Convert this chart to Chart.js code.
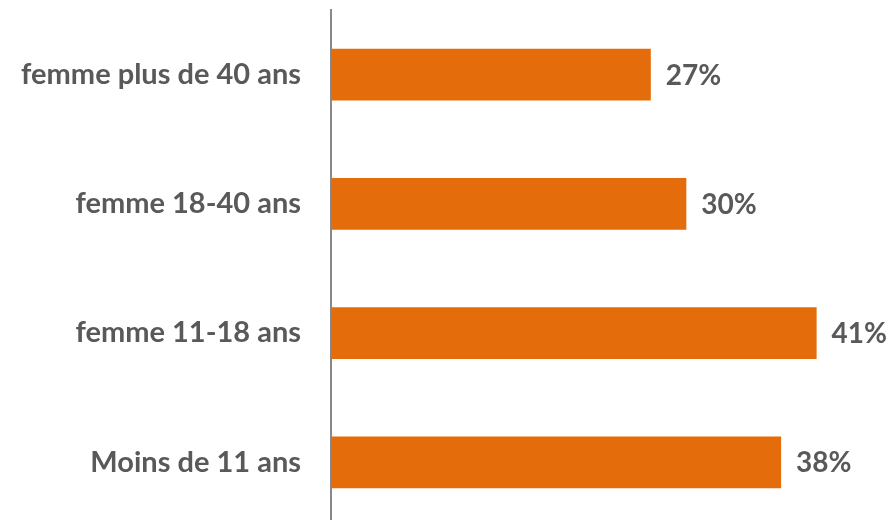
<!DOCTYPE html>
<html>
<head>
<meta charset="utf-8">
<script src="https://cdn.jsdelivr.net/npm/chart.js@4"></script>
<style>
  html, body { margin: 0; padding: 0; background: #fff; overflow: hidden; }
  #wrap { position: relative; width: 896px; height: 527px; }
</style>
</head>
<body>
<div id="wrap"><canvas id="c"></canvas></div>
<script>
const categories = ['femme plus de 40 ans', 'femme 18-40 ans', 'femme 11-18 ans', 'Moins de 11 ans'];
const values = [27, 30, 41, 38];
const valueLabels = ['27%', '30%', '41%', '38%'];

const FONT = 'Lato, "Open Sans", sans-serif';
const TEXT = '#595959';

const valueLabelPlugin = {
  id: 'valueLabels',
  afterDatasetsDraw(chart) {
    const ctx = chart.ctx;
    const meta = chart.getDatasetMeta(0);
    ctx.save();
    ctx.font = 'bold 28px ' + FONT;
    ctx.fillStyle = TEXT;
    ctx.textAlign = 'left';
    ctx.textBaseline = 'middle';
    meta.data.forEach((bar, i) => {
      ctx.fillText(valueLabels[i], bar.x + 15, bar.y + 1);
    });
    ctx.restore();
  }
};

new Chart(document.getElementById('c'), {
  type: 'bar',
  data: {
    labels: categories,
    datasets: [{
      data: values,
      backgroundColor: '#E46C0A',
      barPercentage: 0.4,
      categoryPercentage: 1.0
    }]
  },
  options: {
    indexAxis: 'y',
    responsive: true,
    maintainAspectRatio: false,
    animation: false,
    layout: { padding: { top: 10, right: 32, bottom: 0, left: 0 } },
    plugins: { legend: { display: false }, tooltip: { enabled: false } },
    scales: {
      x: { display: false, min: 0, max: 45 },
      y: {
        afterFit(scale) {
          scale.width = 331;
          scale.paddingTop = 0;
          scale.paddingBottom = 0;
        },
        grid: { display: false, drawTicks: false },
        border: { display: true, color: '#898989', width: 2 },
        ticks: { color: TEXT, font: { family: FONT, size: 29, weight: 'bold' }, padding: 30 }
      }
    }
  },
  plugins: [valueLabelPlugin]
});
</script>
</body>
</html>
